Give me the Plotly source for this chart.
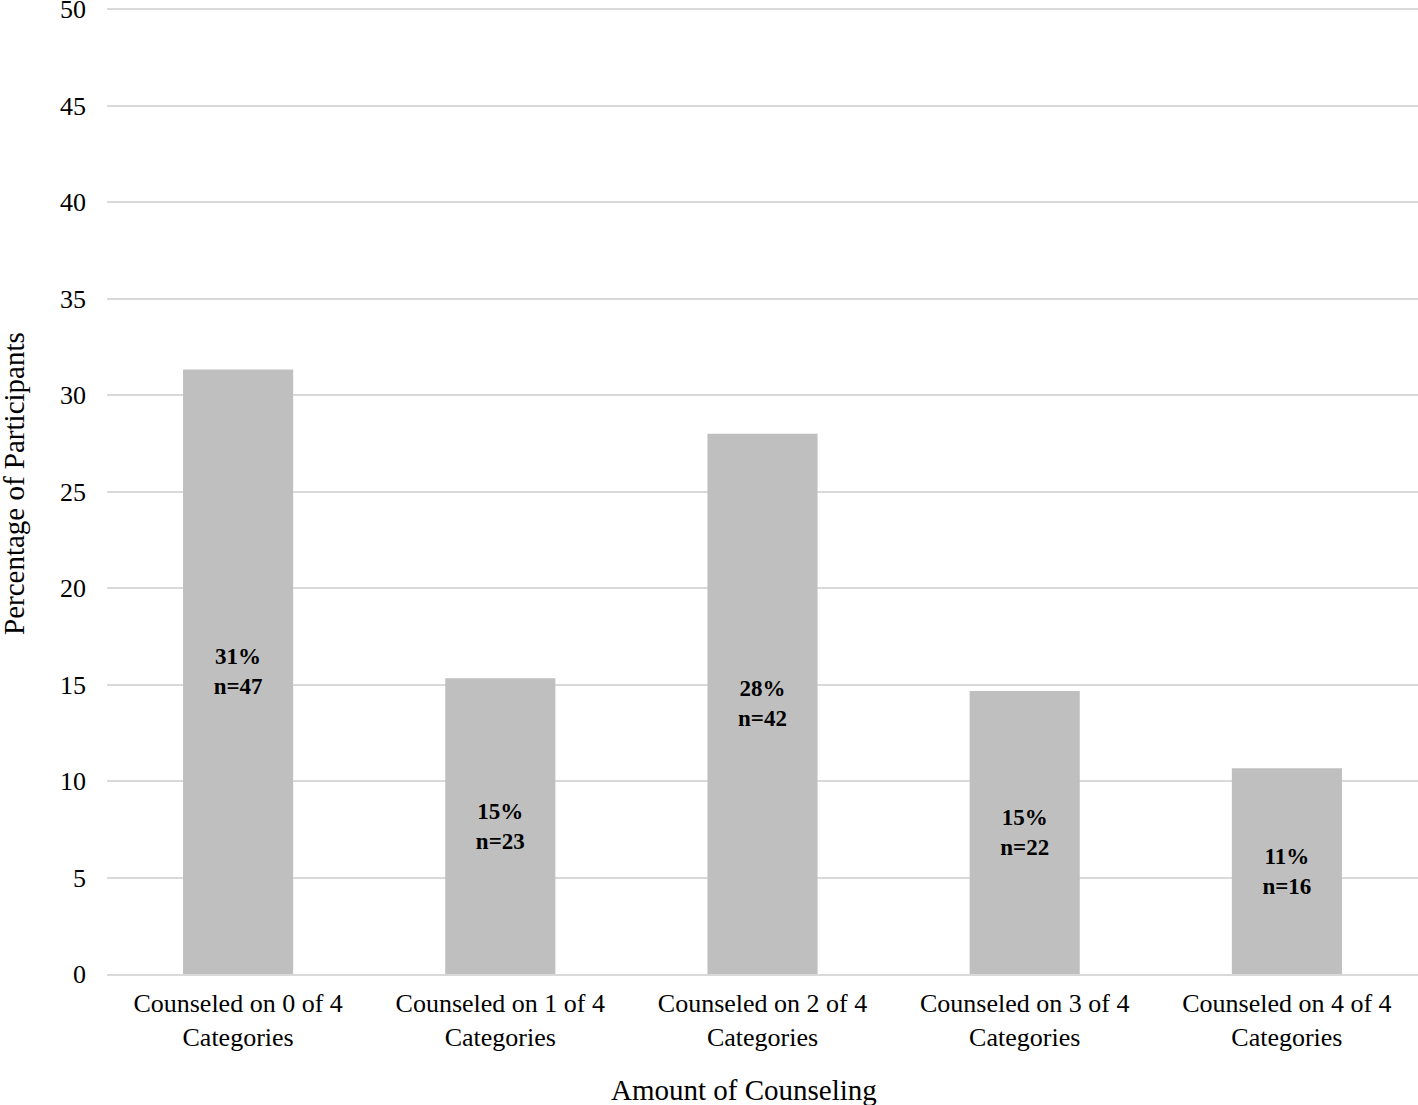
import plotly.graph_objects as go

categories = ["Counseled on 0 of 4<br>Categories", "Counseled on 1 of 4<br>Categories",
              "Counseled on 2 of 4<br>Categories", "Counseled on 3 of 4<br>Categories",
              "Counseled on 4 of 4<br>Categories"]
percentages = [31.33, 15.33, 28.0, 14.67, 10.67]
pct_labels = ["31%", "15%", "28%", "15%", "11%"]
counts = [47, 23, 42, 22, 16]

texts = [f"<b>{p}<br>n={n}</b>" for p, n in zip(pct_labels, counts)]

FONT = "Liberation Serif, Times New Roman, serif"

fig = go.Figure(go.Bar(
    x=categories, y=percentages, text=texts,
    textposition="inside", insidetextanchor="middle", textangle=0,
    textfont=dict(family=FONT, size=23, color="black"),
    marker=dict(color="#bfbfbf", line=dict(width=0)),
    width=0.42, hoverinfo="skip",
))

fig.update_layout(
    width=1418, height=1105,
    margin=dict(l=107, r=0, t=7, b=131),
    plot_bgcolor="white", paper_bgcolor="white",
    font=dict(family=FONT, size=26, color="black"),
    showlegend=False,
)
fig.update_yaxes(range=[0, 50.12], tickvals=list(range(0, 51, 5)), showgrid=True,
                 gridcolor="#d9d9d9", gridwidth=2, ticklabeloverflow="allow", automargin=False,
                 zeroline=False, showline=False, ticks="", ticklabelstandoff=20,
                 tickfont=dict(family=FONT, size=26))
fig.update_xaxes(showgrid=False, showline=True, linecolor="#d9d9d9", linewidth=2, ticks="",
                 automargin=False, ticklabelstandoff=5, tickfont=dict(family=FONT, size=26))

fig.add_annotation(text="Percentage of Participants", xref="paper", yref="paper",
                   x=-107/1311, y=(974-484)/967, xanchor="left", yanchor="middle",
                   xshift=-4, textangle=-90, showarrow=False, font=dict(family=FONT, size=29))
fig.add_annotation(text="Amount of Counseling", xref="paper", yref="paper",
                   x=(744-107)/1311, y=-(1090-974)/967, xanchor="center", yanchor="middle",
                   showarrow=False, font=dict(family=FONT, size=29))

fig.write_html("out.html", config={"displayModeBar": False},
               post_script="document.body.style.margin='0';")
